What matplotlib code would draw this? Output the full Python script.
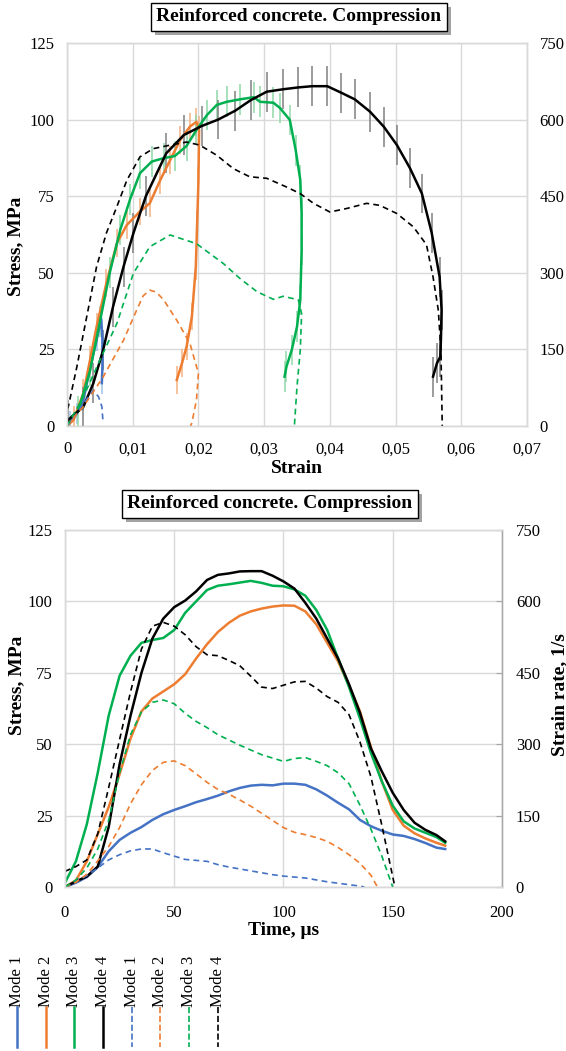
import matplotlib.pyplot as plt
import matplotlib.patheffects as pe
from matplotlib.lines import Line2D
from matplotlib.ticker import FuncFormatter, MultipleLocator

plt.rcParams['font.family'] = ['Liberation Serif', 'DejaVu Serif']

modes = ["Mode 1", "Mode 2", "Mode 3", "Mode 4"]
colors = ["#4472C4", "#ED7D31", "#00B050", "#000000"]
bar_colors = ["#9DC3E6", "#F4B183", "#8FD9A8", "#808080"]
stress_err = [3.5, 4.5, 5.0, 6.5]  # half length of the scatter bars, MPa

# ---- top chart: stress / strain rate vs strain ----
strain_m1 = [0, 0.0005, 0.0015, 0.0025, 0.0035, 0.0045, 0.0052, 0.0054, 0.0054, 0.0053]
stress_m1 = [0, 1.4, 4, 8.5, 19, 28, 35, 28, 20, 14]
strain_m2 = [0, 0.001, 0.0025, 0.0035, 0.0045, 0.006, 0.0076, 0.0091, 0.0111, 0.0126,
             0.0142, 0.0157, 0.0172, 0.0187, 0.0197, 0.0201, 0.02, 0.0198, 0.0196,
             0.019, 0.0182, 0.0175, 0.0167]
stress_m2 = [0, 2, 10.8, 21.5, 32.4, 46.7, 59.7, 65.6, 70, 72.7, 80.3, 86.8, 93.3, 97.7,
             99.3, 96.6, 80, 66, 52, 35.7, 25.9, 20.5, 15]
strain_m3 = [0, 0.0017, 0.0035, 0.005, 0.0065, 0.0081, 0.0096, 0.0111, 0.0129, 0.0147,
             0.0164, 0.0182, 0.0197, 0.0213, 0.0228, 0.0243, 0.0263, 0.0284, 0.0294,
             0.0314, 0.0324, 0.0339, 0.0348, 0.0355, 0.0357, 0.0357, 0.0355, 0.035,
             0.0342, 0.0334, 0.0331]
stress_m3 = [1.6, 4.9, 18, 34, 50, 64, 74, 82.5, 86.3, 87.4, 88.1, 91.4, 96.6, 101.5,
             104.8, 105.8, 106.6, 107.3, 105.8, 105.5, 103.8, 99.9, 90, 80.3, 69.5,
             57.4, 41.1, 32.4, 24.8, 19.4, 16.1]
strain_m4 = [0, 0.0002, 0.0025, 0.004, 0.0055, 0.007, 0.0086, 0.0101, 0.012, 0.0151,
             0.0178, 0.0205, 0.023, 0.0256, 0.028, 0.0304, 0.0329, 0.0352, 0.0373,
             0.0396, 0.0417, 0.0438, 0.0461, 0.0482, 0.0502, 0.0522, 0.054, 0.0555,
             0.0567, 0.057, 0.0569, 0.0568, 0.0563, 0.0557]
stress_m4 = [0, 2, 6.3, 13.9, 24.8, 38.9, 52, 62.9, 75, 89, 95, 97.9, 100, 102.9, 106.4,
             109.1, 109.9, 110.5, 110.9, 110.9, 108.8, 106.6, 102.6, 97.7, 91.7, 84.1,
             75.9, 63, 48.7, 37.9, 28, 22.6, 20.5, 16.1]

rstrain_m1 = [0, 0.0005, 0.0015, 0.0025, 0.004, 0.0048, 0.0053, 0.0055]
rate_m1 = [0, 8, 25, 44, 70, 57, 38, 5]
rstrain_m2 = [0, 0.0002, 0.0025, 0.0055, 0.0086, 0.0106, 0.0116, 0.0126, 0.0136, 0.0147,
              0.0167, 0.0187, 0.02, 0.0197, 0.019, 0.0188]
rate_m2 = [0, 5, 38, 96, 168, 227, 255, 266, 262, 247, 207, 162, 103, 51, 6, 0]
rstrain_m3 = [0, 0.0025, 0.005, 0.0076, 0.0101, 0.0126, 0.0157, 0.0197, 0.0238, 0.0263,
              0.0289, 0.0314, 0.0329, 0.0352, 0.0357, 0.0355, 0.035, 0.0346]
rate_m3 = [0, 57, 129, 201, 299, 351, 374, 357, 318, 289, 263, 248, 254, 247, 220, 149, 77, 0]
rstrain_m4 = [0, 0.0002, 0.0015, 0.003, 0.0045, 0.006, 0.0076, 0.0091, 0.0111, 0.0131,
              0.0157, 0.0182, 0.0202, 0.0228, 0.0253, 0.0278, 0.0304, 0.0334, 0.0355,
              0.0375, 0.04, 0.0426, 0.0456, 0.0476, 0.0502, 0.0527, 0.0547, 0.0557,
              0.0565, 0.0569, 0.057, 0.0571]
rate_m4 = [33, 38, 116, 214, 312, 378, 430, 481, 527, 543, 550, 556, 550, 530, 504, 488,
           485, 468, 455, 436, 419, 426, 436, 432, 416, 390, 355, 292, 227, 149, 77, 0]

# ---- bottom chart: stress / strain rate vs time ----
time = [0, 5, 10, 15, 20, 25, 30, 35, 40, 45, 50, 55, 60, 65, 70, 75, 80, 85, 90, 95,
        100, 105, 110, 115, 120, 125, 130, 135, 140, 145, 150, 155, 160, 165, 170, 174]
tstress_m1 = [0, 1.5, 3.5, 7, 12.5, 16.5, 19, 21, 23.5, 25.5, 27, 28.3, 29.7, 30.8, 32,
              33.5, 34.7, 35.5, 35.8, 35.6, 36.2, 36.2, 35.8, 34.2, 32, 29.5, 27.2, 23.5,
              21.3, 19.7, 18.4, 17.9, 16.8, 15.4, 13.8, 13.3]
tstress_m2 = [0, 2.3, 9, 18.5, 28, 39.5, 52, 61.5, 66, 68.5, 71, 74.5, 80, 85, 89.3, 92.5,
              95, 96.5, 97.5, 98.2, 98.6, 98.5, 96.5, 92, 85.5, 79, 70.5, 61.5, 49, 37, 27,
              21.5, 18.8, 17, 15.5, 14.5]
tstress_m3 = [1.5, 9, 22, 40, 60, 74, 81, 85.5, 86.5, 87.2, 90, 96, 100, 104, 105.5, 106,
              106.6, 107.2, 106.5, 105.5, 105.3, 104.2, 102, 97, 90, 80, 70, 59, 47, 37,
              28.5, 23, 20.5, 19, 17.5, 15.5]
tstress_m4 = [0, 2, 3.7, 7.2, 21, 43, 60, 75, 87, 94, 98, 100.3, 103.5, 107.5, 109.3,
              109.8, 110.5, 110.6, 110.6, 109, 107, 104.5, 99.5, 94, 87, 80, 71, 61, 48.6,
              40.5, 33, 27, 22.5, 20, 18.2, 16]

ttime_m1 = [0, 5, 10, 15, 20, 25, 30, 35, 40, 45, 50, 55, 60, 65, 70, 75, 80, 85, 90, 95,
            100, 105, 110, 115, 120, 125, 130, 135, 137]
trate_m1 = [0, 12, 24, 40, 57, 68, 76, 80, 80, 72, 65, 58, 56, 54, 47, 42, 38, 34, 30, 26,
            23, 21, 19, 15, 11, 8, 5, 2, 0]
ttime_m2 = [0, 5, 10, 15, 20, 25, 30, 35, 40, 45, 50, 55, 60, 65, 70, 75, 80, 85, 90, 95,
            100, 105, 110, 115, 120, 125, 130, 135, 140, 143]
trate_m2 = [0, 10, 27, 55, 85, 125, 175, 215, 245, 262, 265, 255, 238, 220, 205, 195, 183,
            170, 155, 140, 125, 115, 110, 104, 96, 83, 68, 50, 25, 0]
ttime_m3 = [0, 5, 10, 15, 20, 25, 30, 35, 40, 45, 50, 55, 60, 65, 70, 75, 80, 85, 90, 95,
            100, 105, 110, 115, 120, 125, 130, 135, 140, 145, 150]
trate_m3 = [0, 15, 40, 80, 140, 240, 320, 368, 388, 393, 385, 365, 348, 335, 320, 309, 298,
            288, 278, 271, 264, 270, 272, 264, 255, 240, 217, 172, 122, 65, 0]
ttime_m4 = [0, 5, 10, 15, 20, 25, 30, 35, 40, 45, 50, 55, 60, 65, 70, 75, 80, 85, 90, 95,
            100, 105, 110, 115, 120, 125, 130, 135, 140, 145, 151]
trate_m4 = [33, 43, 57, 112, 209, 310, 410, 500, 548, 556, 548, 530, 505, 488, 486, 476,
            465, 443, 420, 417, 424, 431, 432, 418, 400, 388, 362, 305, 232, 130, 0]

top_solid = [(strain_m1, stress_m1), (strain_m2, stress_m2),
             (strain_m3, stress_m3), (strain_m4, stress_m4)]
top_dashed = [(rstrain_m1, rate_m1), (rstrain_m2, rate_m2),
              (rstrain_m3, rate_m3), (rstrain_m4, rate_m4)]
bottom_solid = [tstress_m1, tstress_m2, tstress_m3, tstress_m4]
bottom_dashed = [(ttime_m1, trate_m1), (ttime_m2, trate_m2),
                 (ttime_m3, trate_m3), (ttime_m4, trate_m4)]

GRID = "#d9d9d9"
DASH = (0, (3.5, 2.5))


def style_axes(ax, ax2):
    """Excel-like look: light frame, grid, no tick marks."""
    ax.grid(True, color=GRID, lw=1)
    ax.set_axisbelow(True)
    for a in (ax, ax2):
        for sp in a.spines.values():
            sp.set_color(GRID)
            sp.set_linewidth(1)
        a.tick_params(length=0, labelsize=12)
    ax.set_ylim(0, 125)
    ax.yaxis.set_major_locator(MultipleLocator(25))
    ax2.set_ylim(0, 750)
    ax2.yaxis.set_major_locator(MultipleLocator(150))
    ax.tick_params(axis='y', pad=9)
    ax2.tick_params(axis='y', pad=9)


def boxed_title(x, y, text):
    t = fig.text(x, y, text, ha='center', va='center', fontsize=14, fontweight='bold',
                 bbox=dict(boxstyle='square,pad=0.28', fc='white', ec='black', lw=1.0))
    # drop shadow under the box, like the Excel title
    t.get_bbox_patch().set_path_effects([
        pe.SimplePatchShadow(offset=(3, -3), shadow_rgbFace='#8c8c8c', alpha=0.8),
        pe.Normal()])


fig = plt.figure(figsize=(5.66, 10.51), dpi=100)

# ---------------- top chart ----------------
ax = fig.add_axes([0.1184, 0.5947, 0.8127, 0.3644])
ax2 = ax.twinx()
style_axes(ax, ax2)
ax.set_xlim(0, 0.07)
ax.xaxis.set_major_locator(MultipleLocator(0.01))
ax.xaxis.set_major_formatter(FuncFormatter(
    lambda v, p: "0" if abs(v) < 1e-9 else f"{v:.2f}".replace(".", ",")))
ax.tick_params(axis='x', pad=11)

for i, (x, y) in enumerate(top_solid):
    ax.errorbar(x, y, yerr=stress_err[i], color=colors[i], ecolor=bar_colors[i],
                elinewidth=1.1, capsize=0, lw=1.8, zorder=3)
for i, (x, y) in enumerate(top_dashed):
    ax2.plot(x, y, color=colors[i], ls=DASH, lw=1.2)

ax.set_xlabel("Strain", fontsize=14, fontweight='bold', labelpad=2)
ax.set_ylabel("Stress, MPa", fontsize=14, fontweight='bold')
ax.yaxis.set_label_coords(-0.092, 0.47)
boxed_title(0.528, 0.984, "Reinforced concrete. Compression")

# ---------------- bottom chart ----------------
bx = fig.add_axes([0.1148, 0.156, 0.7721, 0.3397])
bx2 = bx.twinx()
style_axes(bx, bx2)
bx.set_xlim(0, 200)
bx.xaxis.set_major_locator(MultipleLocator(50))
bx.tick_params(axis='x', pad=13)
bx2.tick_params(axis='y', pad=10, length=4, direction='in', color='#a6a6a6')
bx2.spines['right'].set_color('#a6a6a6')

handles = []
for i, y in enumerate(bottom_solid):
    h, = bx.plot(time, y, color=colors[i], lw=1.8)
    handles.append(h)
for i, (x, y) in enumerate(bottom_dashed):
    h, = bx2.plot(x, y, color=colors[i], ls=DASH, lw=1.2)
    handles.append(h)

bx.set_xlabel("Time, μs", fontsize=14, fontweight='bold', labelpad=1)
bx.set_ylabel("Stress, MPa", fontsize=14, fontweight='bold')
bx.yaxis.set_label_coords(-0.092, 0.565)
bx2.set_ylabel("Strain rate, 1/s", fontsize=14, fontweight='bold')
bx2.yaxis.set_label_coords(1.112, 0.54)
boxed_title(0.477, 0.5205, "Reinforced concrete. Compression")

# ---------------- legend: vertical labels with short lines below ----------------
labels = modes + modes
leg_x0, leg_dx = 17 / 566, 28.7 / 566
y_text, y_line_end = 1 - 1007 / 1051, 1 - 1047 / 1051
for i, (h, lab) in enumerate(zip(handles, labels)):
    xc = leg_x0 + i * leg_dx
    fig.text(xc, y_text, lab, rotation=90, ha='center', va='bottom', fontsize=12)
    fig.add_artist(Line2D([xc, xc], [y_text, y_line_end], transform=fig.transFigure,
                          color=h.get_color(), ls=h.get_linestyle(),
                          lw=1.8 if i < 4 else 1.2))

fig.savefig("out.png", dpi=100)
